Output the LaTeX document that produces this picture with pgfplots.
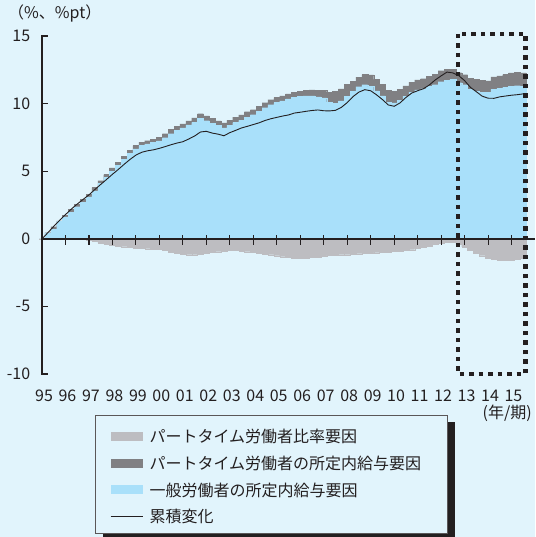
\documentclass[border=0pt]{standalone}
\usepackage{fontspec}
\setmainfont{Noto Sans CJK JP}
\usepackage{pgfplots}
\pgfplotsset{compat=1.18}
\usepackage{pgfplotstable}

\definecolor{bgblue}{HTML}{E1F4FC}
\definecolor{areablue}{HTML}{A9E0FA}
\definecolor{ptwage}{HTML}{808083}
\definecolor{ptratio}{HTML}{BDBDC1}
\definecolor{ink}{HTML}{231F20}

% q: quarter index from 1995Q1; b: general workers' scheduled pay,
% d: part-time scheduled pay, l: part-time ratio, c: cumulative change
\pgfplotstableread{
q b d l c
0 0.00 0.00 0.00 0.00
1 0.40 0.05 0.00 0.45
2 0.72 0.18 0.00 0.92
3 1.28 0.05 0.00 1.37
4 1.62 0.12 0.00 1.79
5 1.98 0.20 0.00 2.20
6 2.38 0.18 0.00 2.57
7 2.70 0.22 -0.05 2.91
8 3.10 0.20 -0.12 3.25
9 3.55 0.24 -0.20 3.64
10 4.10 0.20 -0.30 4.02
11 4.55 0.20 -0.40 4.39
12 5.00 0.24 -0.45 4.77
13 5.45 0.20 -0.52 5.13
14 5.90 0.18 -0.58 5.51
15 6.32 0.22 -0.65 5.87
16 6.65 0.25 -0.70 6.19
17 6.90 0.25 -0.72 6.40
18 7.02 0.24 -0.73 6.51
19 7.12 0.24 -0.74 6.58
20 7.24 0.28 -0.78 6.69
21 7.48 0.30 -0.85 6.82
22 7.78 0.32 -0.97 6.96
23 8.02 0.28 -1.05 7.08
24 8.20 0.30 -1.12 7.18
25 8.42 0.30 -1.18 7.38
26 8.62 0.32 -1.18 7.60
27 8.90 0.35 -1.12 7.90
28 8.74 0.35 -1.07 7.95
29 8.55 0.36 -1.00 7.82
30 8.40 0.33 -0.95 7.74
31 8.20 0.37 -0.90 7.62
32 8.40 0.37 -0.86 7.85
33 8.60 0.40 -0.86 8.02
34 8.75 0.42 -0.90 8.20
35 9.00 0.40 -0.95 8.32
36 9.18 0.37 -1.00 8.45
37 9.45 0.37 -1.05 8.58
38 9.70 0.37 -1.12 8.75
39 9.92 0.37 -1.18 8.88
40 10.08 0.37 -1.25 8.98
41 10.20 0.37 -1.32 9.08
42 10.35 0.37 -1.38 9.16
43 10.45 0.37 -1.43 9.30
44 10.55 0.38 -1.45 9.36
45 10.58 0.40 -1.42 9.43
46 10.57 0.44 -1.37 9.49
47 10.50 0.48 -1.33 9.53
48 10.42 0.55 -1.28 9.47
49 10.10 0.75 -1.24 9.46
50 10.02 0.87 -1.20 9.50
51 10.20 0.88 -1.18 9.72
52 10.55 0.86 -1.17 10.07
53 10.92 0.75 -1.14 10.52
54 11.25 0.70 -1.10 10.85
55 11.40 0.75 -1.06 11.03
56 11.28 0.85 -1.04 10.95
57 10.94 0.86 -1.03 10.65
58 10.57 0.86 -1.00 10.30
59 10.10 0.87 -0.97 9.90
60 10.05 0.87 -0.93 9.80
61 10.25 0.80 -0.90 10.05
62 10.55 0.76 -0.87 10.45
63 10.85 0.74 -0.80 10.78
64 11.02 0.74 -0.72 10.95
65 11.10 0.74 -0.63 11.10
66 11.30 0.74 -0.52 11.38
67 11.40 0.76 -0.41 11.75
68 11.62 0.82 -0.32 12.05
69 11.72 0.80 -0.26 12.33
70 11.80 0.74 -0.26 12.27
71 11.55 0.74 -0.40 12.07
72 11.40 0.74 -0.60 11.70
73 11.05 0.80 -0.85 11.20
74 10.92 0.86 -1.05 10.88
75 10.85 0.86 -1.25 10.55
76 10.82 0.86 -1.42 10.40
77 11.05 0.93 -1.52 10.39
78 11.12 0.93 -1.58 10.50
79 11.20 0.95 -1.60 10.56
80 11.30 0.98 -1.58 10.62
81 11.32 0.98 -1.50 10.66
82 11.30 0.98 -1.43 10.72
}\wagedata

\newcommand{\lblfont}{\fontsize{16pt}{19pt}\selectfont}

\begin{document}
\begin{tikzpicture}[x=1pt,y=1pt]
\useasboundingbox (0,0) rectangle (535,537);
\fill[bgblue] (0,0) rectangle (535,537);

\begin{axis}[
  at={(42pt,163pt)}, anchor=south west,
  scale only axis, width=493pt, height=338pt,
  xmin=1995, xmax=2016, ymin=-10, ymax=15,
  axis lines=left, axis line style={draw=none},
  xtick={1995,...,2015},
  xticklabels={95,96,97,98,99,00,01,02,03,04,05,06,07,08,09,10,11,12,13,14,15},
  ytick={-10,-5,0,5,10,15},
  yticklabels={-10,-5,0,5,10,15},
  tick style={draw=none},
  tick label style={font=\lblfont, text=ink, inner sep=0pt},
  xticklabel style={anchor=north, yshift=-14pt, xshift=2pt},
  yticklabel style={anchor=east, xshift=-9.5pt},
  clip=false,
]
% part-time scheduled pay, stacked on top of the general workers' part
\addplot[ybar, bar width=0.25, bar shift=0pt, fill=ptwage, draw=ptwage, line width=0.2pt]
  table[x expr=1995+\thisrow{q}/4, y expr=\thisrow{b}+\thisrow{d}] {\wagedata};
% general workers' scheduled pay
\addplot[ybar, bar width=0.25, bar shift=0pt, fill=areablue, draw=areablue, line width=0.2pt]
  table[x expr=1995+\thisrow{q}/4, y=b] {\wagedata};
% part-time ratio (negative contribution)
\addplot[ybar, bar width=0.25, bar shift=0pt, fill=ptratio, draw=ptratio, line width=0.2pt]
  table[x expr=1995+\thisrow{q}/4, y=l] {\wagedata};
% cumulative change
\addplot[ink, line width=0.9pt, mark=none, sharp plot]
  table[x expr=1995+\thisrow{q}/4, y=c] {\wagedata};

% zero line
\draw[ink, line width=2pt] (axis cs:1995,0) -- (axis cs:2016,0);
% highlighted recent period
\draw[ink, line width=4.5pt, dash pattern=on 4.5pt off 5pt]
  (axis cs:2012.71,15.15) rectangle (axis cs:2015.6,-10);
\end{axis}

% year ticks on the zero line (one year = 23.476pt)
\foreach \k in {1,...,20} {
  \fill[ink] (42+\k*23.476-0.55,292.1) rectangle (42+\k*23.476+0.55,302.3);
}
% vertical axis with inward ticks (axis box: 338pt for 25 units)
\fill[ink] (40.9,162) rectangle (43.1,502);
\foreach \v in {0,5,...,25} {
  \fill[ink] (42,162.4+\v*13.52) rectangle ++(5.5,1.2);
}

% units
\node[anchor=west, inner sep=0pt, font=\lblfont, text=ink] at (8,524) {（\%、\%pt）};
\node[anchor=east, inner sep=0pt, font=\lblfont, text=ink] at (532,124) {(年/期)};

% legend
\fill[ink] (103,-3) rectangle (455,115);
\filldraw[fill=bgblue, draw=ink!75, line width=0.8pt] (95,4) rectangle (447,122);
\fill[ptratio] (110.7,95.8) rectangle (142.7,104.8);
\node[anchor=west, inner sep=0pt, font=\lblfont, text=ink] at (149.3,100.3) {パートタイム労働者比率要因};
\fill[ptwage] (110.7,69.2) rectangle (142.7,78.2);
\node[anchor=west, inner sep=0pt, font=\lblfont, text=ink] at (149.3,73.7) {パートタイム労働者の所定内給与要因};
\fill[areablue] (110.7,42.5) rectangle (142.7,51.5);
\node[anchor=west, inner sep=0pt, font=\lblfont, text=ink] at (149.3,47) {一般労働者の所定内給与要因};
\draw[ink, line width=0.9pt] (110.7,20.3) -- (142.7,20.3);
\node[anchor=west, inner sep=0pt, font=\lblfont, text=ink] at (149.3,20.3) {累積変化};
\end{tikzpicture}
\end{document}
